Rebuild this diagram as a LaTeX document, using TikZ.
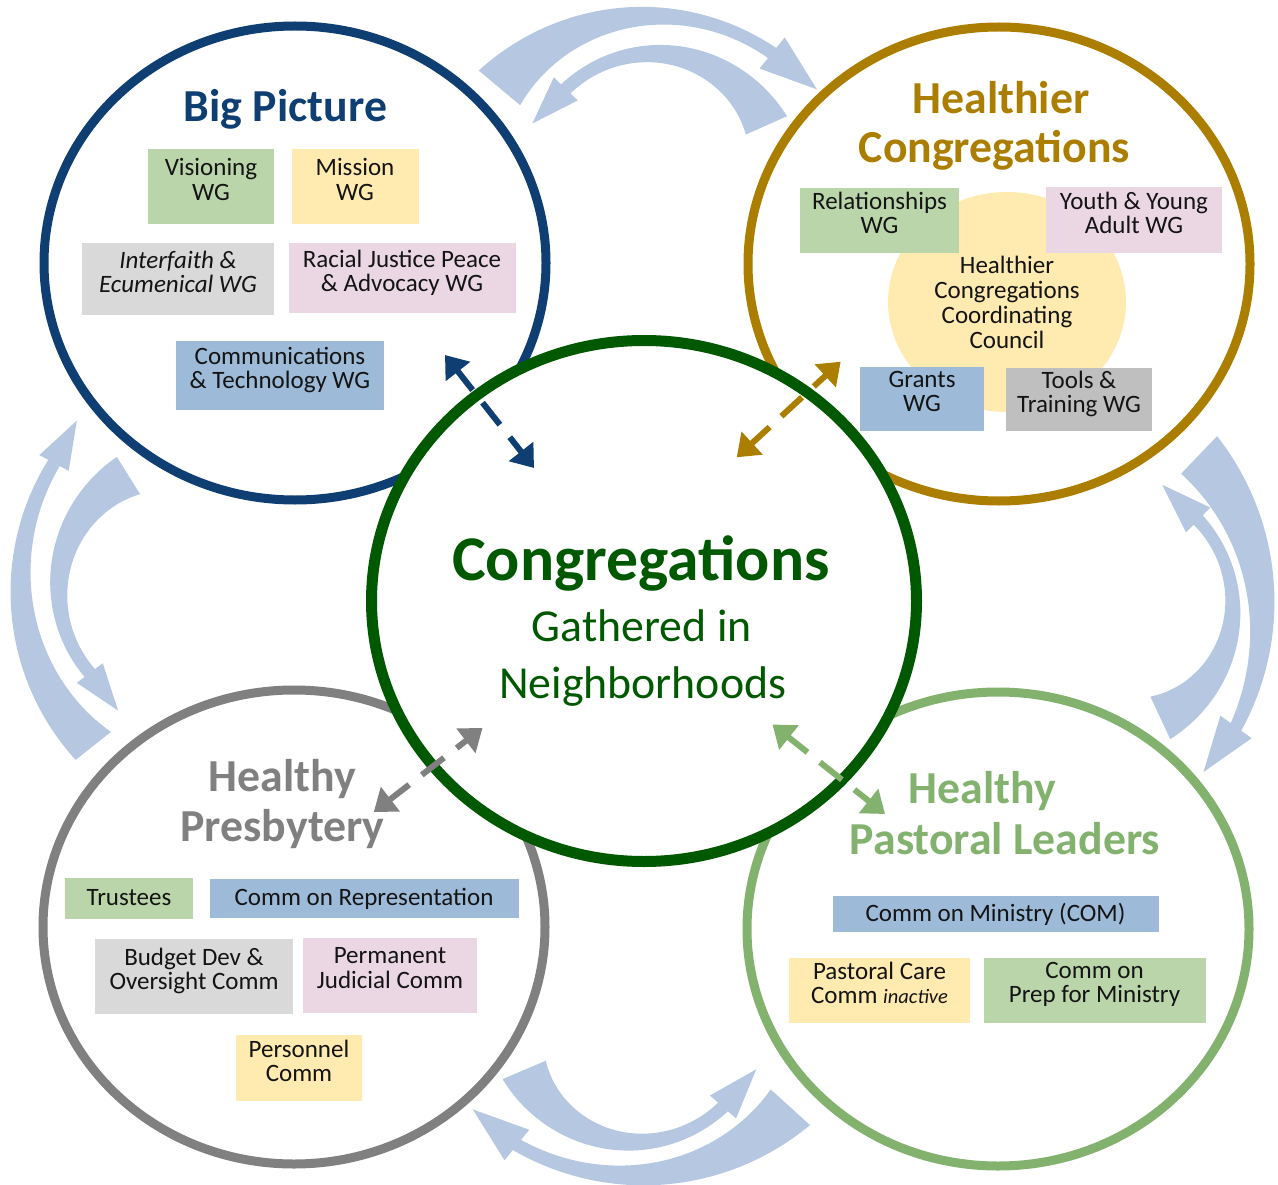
\documentclass[tikz,border=0pt]{standalone}
\usepackage{fontspec}
\setmainfont{Carlito}
\usetikzlibrary{shapes.geometric,arrows.meta}
\definecolor{bigPictureBlue}{RGB}{14,62,114}
\definecolor{healthierGold}{RGB}{171,126,0}
\definecolor{congGreen}{RGB}{0,88,0}
\definecolor{presbyteryGray}{RGB}{128,128,128}
\definecolor{pastoralGreen}{RGB}{130,178,110}
\definecolor{swooshBlue}{RGB}{182,199,225}
\definecolor{wgGreen}{RGB}{187,213,171}
\definecolor{wgYellow}{RGB}{255,234,176}
\definecolor{wgGray}{RGB}{217,217,217}
\definecolor{wgDarkGray}{RGB}{191,191,191}
\definecolor{wgPink}{RGB}{234,215,227}
\definecolor{wgBlue}{RGB}{157,186,216}
\definecolor{ink}{RGB}{20,20,20}

\newcommand{\wgfont}{\fontsize{25}{24.2}\selectfont}
\newcommand{\headfont}{\fontsize{45.8}{50}\selectfont\bfseries}

% curved block arrow: cx, cy, r tail, r mid, r head, angle tail, angle head, width tail, width mid
\newcommand{\swoosh}[9]{%
  \fill[swooshBlue, declare function={
      ff(\x)=(\x-(#6))/((#7)-(#6));
      rr(\x)=(#3)*2*(1-ff(\x))*(0.5-ff(\x))+(#4)*4*ff(\x)*(1-ff(\x))+(#5)*2*ff(\x)*(ff(\x)-0.5);
      ww(\x)=(#8)*2*(1-ff(\x))*(0.5-ff(\x))+(#9)*4*ff(\x)*(1-ff(\x))+26*ff(\x)*(ff(\x)-0.5);}]
    plot[domain=#6:#7, samples=60] ({#1+(rr(\x)+ww(\x)/2)*cos(\x)}, {#2+(rr(\x)+ww(\x)/2)*sin(\x)})
    -- ({#1+(#5+0.37*#8)*cos(#7)}, {#2+(#5+0.37*#8)*sin(#7)})
    -- ({#1+#5*cos(#7)-(2*((#7)>(#6))-1)*1.07*#8*sin(#7)}, {#2+#5*sin(#7)+(2*((#7)>(#6))-1)*1.07*#8*cos(#7)})
    -- ({#1+(#5-0.37*#8)*cos(#7)}, {#2+(#5-0.37*#8)*sin(#7)})
    -- plot[domain=#7:#6, samples=60] ({#1+(rr(\x)-ww(\x)/2)*cos(\x)}, {#2+(rr(\x)-ww(\x)/2)*sin(\x)})
    -- cycle;}

\tikzset{
  ring/.style={ellipse, draw=#1, line width=9pt, minimum width=502pt, minimum height=474pt, inner sep=0pt},
  wg/.style={rectangle, fill=#1, inner sep=0pt, align=center, text=ink, font=\wgfont},
  twolines/.style={execute at end node={\rule[-15pt]{0pt}{15pt}}},
  circletitle/.style={text=#1, font=\headfont, inner sep=0pt, anchor=base},
  link/.style={draw=#1, line width=6pt, dash pattern=on 25pt off 16pt on 28pt off 16pt,
    arrows={Triangle[width=30pt,length=21pt]-Triangle[width=30pt,length=21pt]}},
}

\begin{document}
\begin{tikzpicture}[x=1pt, y=-1pt]
  \useasboundingbox (0,0) rectangle (1278,1185);

  \swoosh{645}{210}{190}{193}{202}{-140}{-51}{54}{21}
  \swoosh{655}{175}{122}{121}{124}{-24}{-136}{45}{20}
  \swoosh{290}{590}{251}{268}{268}{141.6}{208.3}{45}{23}
  \swoosh{200}{590}{135}{141}{138}{238}{143}{44}{20}
  \swoosh{1060}{600}{201}{200}{217}{-46.2}{35.8}{52}{29}
  \swoosh{1110}{610}{119}{122}{126}{65}{-45.6}{47}{18}
  \swoosh{630}{1025}{115}{116}{124}{157}{41.4}{47}{20}
  \swoosh{650}{980}{189.5}{193}{212}{42.2}{128.9}{53}{24}

  \node[ring=bigPictureBlue] (bigpicture) at (295,263) {};
  \node[ring=healthierGold] (healthier) at (999,264) {};
  \node[ring=presbyteryGray] (presbytery) at (294,927) {};
  \node[ring=pastoralGreen] (pastoral) at (998,929) {};

  \node[circletitle=bigPictureBlue] (bp-title) at (285.5,121.7) {Big Picture};
  \node[wg=wgGreen, twolines, minimum width=126pt, minimum height=75pt] (visioning) at (211,187) {Visioning\\WG};
  \node[wg=wgYellow, twolines, minimum width=127pt, minimum height=75pt] (mission) at (355,187) {Mission\\WG};
  \node[wg=wgGray, twolines, font=\wgfont\itshape, minimum width=192pt, minimum height=72pt] (interfaith) at (178,279.5) {Interfaith \&\\Ecumenical WG};
  \node[wg=wgPink, twolines, minimum width=227pt, minimum height=70pt] (racial) at (402,278) {Racial Justice Peace\\\& Advocacy WG};
  \node[wg=wgBlue, twolines, minimum width=208pt, minimum height=69pt] (commtech) at (280,375) {Communications\\\& Technology WG};

  \node[circletitle=healthierGold] (hc-title1) at (1001,114) {Healthier};
  \node[circletitle=healthierGold] (hc-title2) at (994.5,163) {Congregations};
  \node[ellipse, fill=wgYellow, minimum width=238pt, minimum height=220pt, inner sep=0pt, align=center, text=ink, font=\fontsize{25}{25}\selectfont] (council) at (1007,302) {Healthier\\Congregations\\Coordinating\\Council};
  \node[wg=wgGreen, twolines, minimum width=159pt, minimum height=65pt] (relationships) at (879.5,220.5) {Relationships\\WG};
  \node[wg=wgPink, twolines, minimum width=176pt, minimum height=66pt] (youth) at (1134,220) {Youth \& Young\\Adult WG};
  \node[wg=wgBlue, twolines, minimum width=124pt, minimum height=64pt] (grants) at (922,399) {Grants\\WG};
  \node[wg=wgDarkGray, twolines, minimum width=146pt, minimum height=63pt] (tools) at (1079,399.5) {Tools \&\\Training WG};

  \node[circletitle=presbyteryGray] (hp-title1) at (282.5,791.7) {Healthy};
  \node[circletitle=presbyteryGray] (hp-title2) at (282.5,841.7) {Presbytery};
  \node[wg=wgGreen, minimum width=128pt, minimum height=41pt] (trustees) at (129,898) {Trustees};
  \node[wg=wgBlue, minimum width=309pt, minimum height=39pt] (commrep) at (364,898.7) {Comm on Representation};
  \node[wg=wgGray, twolines, minimum width=198pt, minimum height=75pt] (budget) at (194,976.7) {Budget Dev \&\\Oversight Comm};
  \node[wg=wgPink, twolines, minimum width=174pt, minimum height=75pt] (permanent) at (390,975.4) {Permanent\\Judicial Comm};
  \node[wg=wgYellow, twolines, minimum width=126pt, minimum height=66pt] (personnel) at (299,1068) {Personnel\\Comm};

  \node[circletitle=pastoralGreen] (pl-title1) at (982.5,803) {Healthy};
  \node[circletitle=pastoralGreen] (pl-title2) at (1005,854) {Pastoral Leaders};
  \node[wg=wgBlue, minimum width=326pt, minimum height=36pt] (com) at (995.5,914) {Comm on Ministry (COM)};
  \node[wg=wgYellow, twolines, minimum width=181pt, minimum height=65pt] (pastoralcare) at (879.5,990) {Pastoral Care\\Comm {\fontsize{20.5}{20}\selectfont\itshape inactive}};
  \node[wg=wgGreen, twolines, minimum width=222pt, minimum height=65pt] (prep) at (1094.5,990) {Comm on\\Prep for Ministry};

  \node[ellipse, draw=congGreen, fill=white, line width=11pt, minimum width=545pt, minimum height=521pt, inner sep=0pt] (cong) at (644,601) {};
  \node[circletitle=congGreen, font=\fontsize{63.7}{64}\selectfont\bfseries] (cong-title) at (641,580) {Congregations};
  \node[circletitle=congGreen, font=\fontsize{45.8}{46}\selectfont] (cong-sub1) at (641.7,641.7) {Gathered in};
  \node[circletitle=congGreen, font=\fontsize{45.8}{46}\selectfont] (cong-sub2) at (642.7,698) {Neighborhoods};

  \coordinate (bp-end) at (445,355);
  \coordinate (bp-cong) at (534,468);
  \coordinate (hc-cong) at (736.7,457.3);
  \coordinate (hc-end) at (840.7,361.7);
  \coordinate (hp-end) at (373.8,812);
  \coordinate (hp-cong) at (482.5,728);
  \coordinate (pl-cong) at (772.5,724.5);
  \coordinate (pl-end) at (885,814);
  \draw[link=bigPictureBlue] (bp-end) -- (bp-cong);
  \draw[link=healthierGold] (hc-cong) -- (hc-end);
  \draw[link=presbyteryGray] (hp-end) -- (hp-cong);
  \draw[link=pastoralGreen] (pl-cong) -- (pl-end);
\end{tikzpicture}
\end{document}
